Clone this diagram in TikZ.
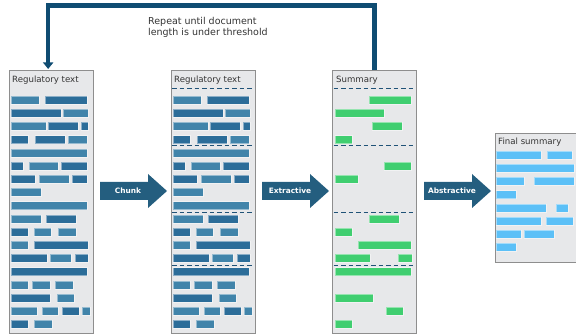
\documentclass[tikz,border=0pt]{standalone}
\usepackage{fontspec}
\setmainfont{DejaVu Sans}
\usetikzlibrary{arrows.meta}

\definecolor{boxgray}{HTML}{E7E8EA}
\definecolor{boxedge}{HTML}{8E8E8E}
\definecolor{bara}{HTML}{4184AA}
\definecolor{barb}{HTML}{2C6D99}
\definecolor{sumgreen}{HTML}{40CE70}
\definecolor{finblue}{HTML}{5CC0F7}
\definecolor{stepblue}{HTML}{245E7F}
\definecolor{loopblue}{HTML}{0F4C72}
\definecolor{chunkdash}{HTML}{1F5277}
\definecolor{txtgray}{HTML}{333333}

\tikzset{
  docbox/.style={draw=boxedge, fill=boxgray, line width=0.8pt, anchor=north west, inner sep=0pt},
  boxtitle/.style={anchor=base west, inner sep=0pt, text=txtgray, font=\fontsize{8.6}{10}\selectfont},
  bar/.style={draw=white, draw opacity=0.45, line width=0.5pt},
  chunkline/.style={draw=chunkdash, line width=0.9pt, dash pattern=on 4.5pt off 3pt, shorten <=1.5pt, shorten >=1.5pt},
  steptext/.style={text=white, font=\bfseries\fontsize{7.4}{8}\selectfont, inner sep=0pt},
}

\begin{document}
\begin{tikzpicture}[x=1pt,y=-1pt] % pixel grid, y down
  \useasboundingbox (0,0) rectangle (576,336);
  \def\regbars{11/39/0/a, 45/87/0/b, 11/61/1/b, 63/88/1/a, 11/46/2/a, 48/78/2/b, 81/88/2/b,
    11/28/3/b, 35/65/3/b, 68/87/3/a, 11/87/4/a, 11/23/5/b, 29/58/5/a, 61/87/5/b,
    11/35/6/b, 39/69/6/a, 72/87/6/b, 11/41/7/a, 11/87/8/a, 11/41/9/a, 46/76/9/b,
    11/28/10/b, 34/51/10/a, 58/76/10/a, 11/28/11/a, 34/88/11/b, 11/47/12/b, 50/71/12/a,
    75/88/12/b, 11/87/13/b, 11/28/14/a, 32/50/14/a, 55/73/14/a, 11/50/15/b, 57/74/15/a,
    11/37/16/a, 42/58/16/a, 62/79/16/b, 82/90/16/a, 11/28/17/b, 34/52/17/a}

  % documents
  \node[docbox, minimum width=84.5pt, minimum height=262.5pt] (reg) at (8.5,70.5) {};
  \node[docbox, minimum width=84.5pt, minimum height=262.5pt] (chunks) at (170.5,70.5) {};
  \node[docbox, minimum width=84pt, minimum height=262.5pt] (summ) at (332,70.5) {};
  \node[docbox, minimum width=90pt, minimum height=129pt] (final) at (495,133) {};

  \node[boxtitle] (regtitle) at (12,83) {Regulatory text};
  \node[boxtitle] (chunkstitle) at (174,83) {Regulatory text};
  \node[boxtitle] (summtitle) at (336,83) {Summary};
  \node[boxtitle] (finaltitle) at (498,145) {Final summary};

  % text lines
  \foreach \xa/\xb/\k/\s in \regbars
    \filldraw[bar, fill=bar\s] (\xa,{96+13.2*\k}) rectangle (\xb,{104+13.2*\k});
  \begin{scope}[xshift=162pt]
    \foreach \xa/\xb/\k/\s in \regbars
      \filldraw[bar, fill=bar\s] (\xa,{96+13.2*\k}) rectangle (\xb,{104+13.2*\k});
  \end{scope}
  \foreach \xa/\xb/\k in {369/411/0, 335/384/1, 372/402/2, 335/352/3, 384/411/5, 335/358/6,
      369/399/9, 335/352/10, 358/411/11, 335/370/12, 398/412/12, 335/411/13, 335/373/15,
      386/403/16, 335/352/17}
    \filldraw[bar, fill=sumgreen] (\xa,{96+13.2*\k}) rectangle (\xb,{104+13.2*\k});
  \foreach \xa/\xb/\k in {496/541/0, 547/572/0, 496/574/1, 496/524/2, 534/574/2, 496/516/3,
      496/546/4, 556/568/4, 496/541/5, 546/573/5, 496/521/6, 524/554/6, 496/516/7}
    \filldraw[bar, fill=finblue] (\xa,{151+13.2*\k}) rectangle (\xb,{159+13.2*\k});

  % chunk borders
  \foreach \y in {88.3,145.7,212.3,265.3} {
    \draw[chunkline] (chunks.west |- 0,\y) -- (chunks.east |- 0,\y);
    \draw[chunkline] (summ.west |- 0,\y) -- (summ.east |- 0,\y);
  }

  % steps
  \foreach \x/\nm/\lbl in {100/chunk/Chunk, 262/extract/Extractive, 424/abstract/Abstractive} {
    \fill[stepblue] (\x,182) -- ++(48,0) -- ++(0,-8) -- ++(19,17) -- ++(-19,17) -- ++(0,-8) -- ++(-48,0) -- cycle;
    \node[steptext] (\nm) at ({\x+28},191) {\lbl};
  }

  % loop back
  \draw[loopblue, line width=4.5pt, line join=miter, shorten >=1.5pt, -{Triangle[width=10pt,length=6.5pt]}]
    (summ.north) -- ++(0,-65) -| ([xshift=-3pt]reg.north);
  \node[anchor=north west, align=left, inner sep=0pt, text=txtgray, font=\fontsize{9.5}{11.5}\selectfont]
    (repeat) at (148,16.8) {Repeat until document\\length is under threshold};
\end{tikzpicture}
\end{document}
